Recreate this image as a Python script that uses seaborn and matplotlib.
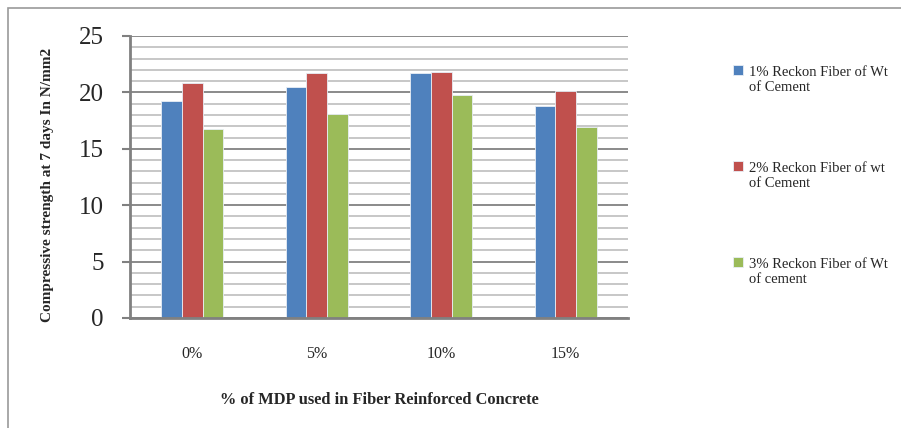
import matplotlib
matplotlib.use("Agg")
import matplotlib.pyplot as plt
from matplotlib.patches import Rectangle
from matplotlib.ticker import MultipleLocator
from matplotlib.legend_handler import HandlerPatch
import seaborn as sns
import pandas as pd

categories = ["0%", "5%", "10%", "15%"]
series_names = ["1% Reckon Fiber of Wt\nof Cement",
                "2% Reckon Fiber of wt\nof Cement",
                "3% Reckon Fiber of Wt\nof cement"]
s1 = [19.2, 20.45, 21.7, 18.8]
s2 = [20.8, 21.7, 21.85, 20.1]
s3 = [16.75, 18.1, 19.75, 16.9]
colors = ["#4F81BD", "#C0504D", "#9BBB59"]

rows = []
for name, vals in zip(series_names, [s1, s2, s3]):
    for c, v in zip(categories, vals):
        rows.append({"MDP": c, "Series": name, "Value": v})
df = pd.DataFrame(rows)

sns.set_style("white")
plt.rcParams["font.family"] = ["Liberation Serif", "DejaVu Serif"]

fig = plt.figure(figsize=(9.01, 4.28), dpi=100)
ax = fig.add_axes([130/901, 1-318/428, (628-130)/901, (318-36)/428])

sns.barplot(data=df, x="MDP", y="Value", hue="Series", order=categories,
            hue_order=series_names, palette=colors, width=0.5, ax=ax,
            edgecolor="#e8eef6", linewidth=0.6, saturation=1, legend=True)

ax.set_ylim(0, 25)
ax.yaxis.set_major_locator(MultipleLocator(5))
ax.yaxis.set_minor_locator(MultipleLocator(1))
ax.grid(which="major", axis="y", color="#8a8a8a", linewidth=1.4, zorder=0)
ax.grid(which="minor", axis="y", color="#b8b8b8", linewidth=1.1, zorder=0)
ax.set_axisbelow(True)
for s in ["top", "right"]:
    ax.spines[s].set_visible(False)
for s in ["left", "bottom"]:
    ax.spines[s].set_color("#808080")
    ax.spines[s].set_linewidth(2)
ax.tick_params(axis="y", which="major", length=6, width=1.5, color="#808080",
               labelsize=18, pad=13, left=True)
ax.tick_params(axis="y", which="minor", length=0)
ax.tick_params(axis="x", length=0, labelsize=11.5, pad=20)

ax.set_ylabel("Compressive strength at 7 days In N/mm2", fontsize=11,
              fontweight="bold")
ax.yaxis.set_label_coords(-0.153, 0.472)
ax.set_xlabel("% of MDP used in Fiber Reinforced Concrete", fontsize=11.75,
              fontweight="bold", labelpad=22)


def top_square(legend, orig_handle, xdescent, ydescent, width, height, fontsize):
    return Rectangle((-xdescent, -ydescent + 0.66 * fontsize), width, height)


handles, labels = ax.get_legend_handles_labels()
leg = ax.legend(handles, labels, loc="upper left",
                bbox_to_anchor=(720/901, 1-53/428),
                bbox_transform=fig.transFigure, frameon=False, fontsize=10.5,
                handlelength=0.66, handleheight=0.66, handletextpad=0.4,
                labelspacing=4.7,
                handler_map={h: HandlerPatch(patch_func=top_square) for h in handles})
for t in leg.get_texts():
    t.set_linespacing(1.15)

fig.add_artist(Rectangle((8/901, -0.1), 1.2, (428-8)/428 + 0.1,
                         transform=fig.transFigure, fill=False,
                         edgecolor="#9a9a9a", linewidth=1.2))

fig.savefig("out.png", dpi=100)
